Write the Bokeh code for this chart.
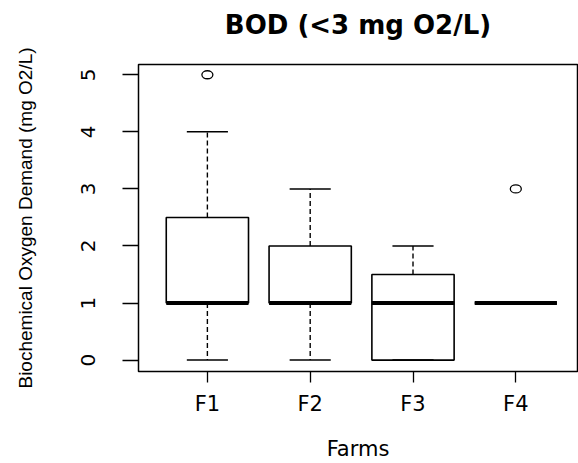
from bokeh.plotting import figure
from bokeh.models import Range1d, FixedTicker, LinearAxis
from bokeh.embed import file_html
from bokeh.resources import INLINE

# ---- data ----
farms = ["F1", "F2", "F3", "F4"]
lower_whisker = [0, 0, 0, 1]
q1 = [1, 1, 0, 1]
median = [1, 1, 1, 1]
q3 = [2.5, 2, 1.5, 1]
upper_whisker = [4, 3, 2, 1]
outlier_farm = ["F1", "F4"]
outlier_value = [5, 3]
y_ticks = [0, 1, 2, 3, 4, 5]

title_text = "BOD (<3 mg O2/L)"
x_label = "Farms"
y_label = "Biochemical Oxygen Demand (mg O2/L)"

# positions derived from category order
xs = [i + 1 for i in range(len(farms))]
pos = {f: i + 1 for i, f in enumerate(farms)}
ox = [pos[f] for f in outlier_farm]
box_half = 0.4
cap_half = 0.2

p = figure(width=578, height=463, output_backend="svg", toolbar_location=None,
           x_range=Range1d(0.33, 4.6), y_range=Range1d(-0.2, 5.18),
           min_border_left=138, min_border_right=1, min_border_top=64,
           min_border_bottom=92)

p.background_fill_color = "white"
p.border_fill_color = "white"
p.outline_line_color = "black"
p.outline_line_width = 1.5
p.outline_line_alpha = 1.0
p.xgrid.visible = False
p.ygrid.visible = False

xa = p.below[0]
ya = p.left[0]

# title, drawn as the label of a tick-less axis above the frame
top_axis = LinearAxis(ticker=FixedTicker(ticks=[]), axis_line_color=None,
                      major_tick_in=0, major_tick_out=0, minor_tick_in=0,
                      minor_tick_out=0, major_label_standoff=0,
                      axis_label=title_text, axis_label_standoff=25,
                      axis_label_text_font="DejaVu Sans",
                      axis_label_text_font_size="26px",
                      axis_label_text_font_style="bold",
                      axis_label_text_color="black")
p.add_layout(top_axis, "above")

# x axis
xa.ticker = FixedTicker(ticks=xs)
xa.major_label_overrides = {x: f for x, f in zip(xs, farms)}
xa.axis_line_color = None
xa.major_tick_in = 0
xa.major_tick_out = 11
xa.major_tick_line_width = 1.3
xa.minor_tick_line_color = None
xa.major_label_text_font = "DejaVu Sans"
xa.major_label_text_font_size = "21px"
xa.major_label_text_color = "black"
xa.major_label_standoff = 9
xa.axis_label = x_label
xa.axis_label_text_font = "DejaVu Sans"
xa.axis_label_text_font_size = "21px"
xa.axis_label_text_font_style = "normal"
xa.axis_label_text_color = "black"
xa.axis_label_standoff = 18

# y axis
ya.ticker = FixedTicker(ticks=y_ticks)
ya.axis_line_color = None
ya.major_tick_in = 0
ya.major_tick_out = 16
ya.major_tick_line_width = 1.3
ya.minor_tick_line_color = None
ya.major_label_orientation = "vertical"
ya.major_label_text_font = "DejaVu Sans"
ya.major_label_text_font_size = "20px"
ya.major_label_text_color = "black"
ya.major_label_standoff = 27
ya.axis_label = y_label
ya.axis_label_text_font = "Liberation Sans"
ya.axis_label_text_font_size = "19px"
ya.axis_label_text_font_style = "normal"
ya.axis_label_text_color = "black"
ya.axis_label_standoff = 43

# boxes
p.quad(left=[x - box_half for x in xs], right=[x + box_half for x in xs],
       bottom=q1, top=q3, fill_color="white", line_color="black", line_width=1.6)
# whiskers
p.segment(x0=xs, y0=q3, x1=xs, y1=upper_whisker, line_color="black",
          line_width=1.4, line_dash="5 3")
p.segment(x0=xs, y0=q1, x1=xs, y1=lower_whisker, line_color="black",
          line_width=1.4, line_dash="5 3")
# caps
p.segment(x0=[x - cap_half for x in xs], y0=upper_whisker,
          x1=[x + cap_half for x in xs], y1=upper_whisker,
          line_color="black", line_width=1.5)
p.segment(x0=[x - cap_half for x in xs], y0=lower_whisker,
          x1=[x + cap_half for x in xs], y1=lower_whisker,
          line_color="black", line_width=1.5)
# medians
p.segment(x0=[x - box_half for x in xs], y0=median,
          x1=[x + box_half for x in xs], y1=median,
          line_color="black", line_width=4, line_cap="butt")
# outliers
p.ellipse(x=ox, y=outlier_value, width=11, height=8,
          width_units="screen", height_units="screen",
          fill_color=None, line_color="black", line_width=1.3)

open("out.html", "w").write(file_html(p, INLINE))
